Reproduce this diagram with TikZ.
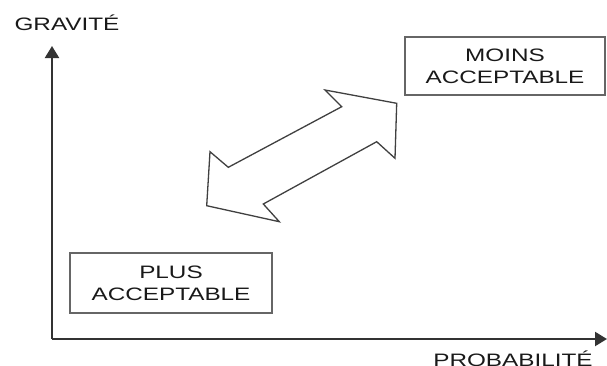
\documentclass[tikz,border=0pt]{standalone}
\usepackage{fontspec}
\setmainfont{Liberation Sans}
\usetikzlibrary{arrows.meta,positioning}
\newcommand{\stretched}[1]{\scalebox{1.35}[1]{#1}}
\tikzset{zone/.style={draw=black!60, line width=1.5pt, align=center, inner sep=0pt, text=black!90, font=\fontsize{18}{22}\selectfont}}
\tikzstyle{axis}=[draw=black!80, line width=2.2pt, -{Triangle[width=14pt,length=12pt]}]
\tikzstyle{lbl}=[font=\fontsize{18}{22}\selectfont, text=black!90, inner sep=0pt]

\begin{document}
\begin{tikzpicture}[x=1pt, y=-1pt]
\useasboundingbox (0,0) rectangle (607,365);
\coordinate (O) at (52,339);
\coordinate (Ytip) at (52,46);
\coordinate (Xtip) at (607,339);
\node[lbl, anchor=base] (gravite) at (67,30) {\stretched{GRAVITÉ}};
\node[lbl, anchor=base] (proba) at (513,366) {\stretched{PROBABILITÉ}};
\node[zone, minimum width=200pt, minimum height=58pt] (moins) at (505,66) {\stretched{MOINS}\\\stretched{ACCEPTABLE}};
\node[zone, minimum width=202pt, minimum height=60pt] (plus) at (171,283) {\stretched{PLUS}\\\stretched{ACCEPTABLE}};

\draw[axis] (O) -- (Ytip);
\draw[axis] (O) -- (Xtip);

% double fleche
\draw[draw=black!75, line width=1.3pt, fill=white, line join=miter]
  (210,151.7) -- (228.3,167.3) -- (341.7,106.7) -- (325,90) -- (396.7,103.3)
  -- (395,158.3) -- (376.7,141.7) -- (263.3,204) -- (279.3,221.7) -- (206.7,205.7) -- cycle;
\end{tikzpicture}
\end{document}
